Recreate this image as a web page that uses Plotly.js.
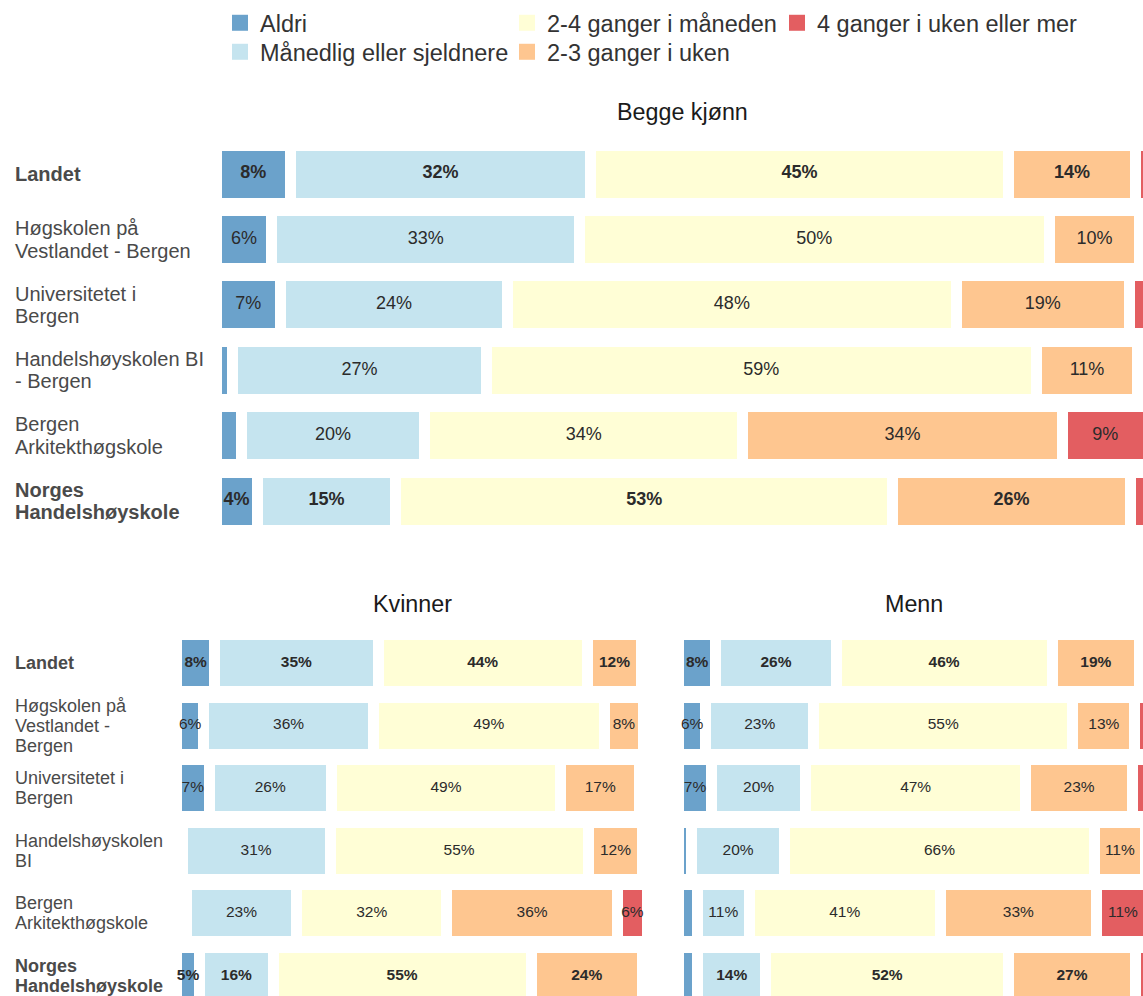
<!DOCTYPE html>
<html>
<head>
<meta charset="utf-8">
<script src="https://cdn.plot.ly/plotly-3.0.1.min.js"></script>
<style>html,body{margin:0;padding:0;background:#fff;}#chart{width:1143px;height:996px;}</style>
</head>
<body>
<div id="chart"></div>
<script>
// ---------- data ----------
const categories = ['Landet', 'Høgskolen på Vestlandet - Bergen', 'Universitetet i Bergen',
  'Handelshøyskolen BI - Bergen', 'Bergen Arkitekthøgskole', 'Norges Handelshøyskole'];
const topLabels = ['Landet', 'Høgskolen på<br>Vestlandet - Bergen', 'Universitetet i<br>Bergen',
  'Handelshøyskolen BI<br>- Bergen', 'Bergen<br>Arkitekthøgskole', 'Norges<br>Handelshøyskole'];
const bottomLabels = ['Landet', 'Høgskolen på<br>Vestlandet -<br>Bergen', 'Universitetet i<br>Bergen',
  'Handelshøyskolen<br>BI', 'Bergen<br>Arkitekthøgskole', 'Norges<br>Handelshøyskole'];
const boldRows = ['Landet', 'Norges Handelshøyskole'];
const seriesNames = ['Aldri', 'Månedlig eller sjeldnere', '2-4 ganger i måneden',
  '2-3 ganger i uken', '4 ganger i uken eller mer'];
const seriesColors = ['#6ba2cb', '#c5e4ef', '#fffed6', '#fec690', '#e35e61'];
const panelTitles = ['Begge kjønn', 'Kvinner', 'Menn'];

// Begge kjønn (percent)
const beggeAldri    = [8.0, 6.0, 6.9, 1.8, 2.7, 4.4];
const beggeMaanedlig= [32.2, 33.0, 24.4, 27.2, 19.7, 14.9];
const begge24mnd    = [44.8, 50.4, 48.1, 59.0, 34.1, 53.3];
const begge23uke    = [13.7, 9.7, 18.6, 10.9, 34.3, 25.5];
const begge4uke     = [1.3, 0.9, 2.0, 1.1, 9.2, 1.9];
// Kvinner
const kvinnerAldri    = [8.1, 5.8, 6.9, 1.2, 2.1, 4.9];
const kvinnerMaanedlig= [34.7, 36.0, 26.0, 31.4, 23.4, 15.6];
const kvinner24mnd    = [44.4, 49.0, 48.6, 54.8, 31.9, 54.8];
const kvinner23uke    = [11.6, 8.4, 16.9, 11.6, 36.2, 23.6];
const kvinner4uke     = [1.2, 0.8, 1.6, 1.0, 6.4, 1.1];
// Menn
const mennAldri    = [7.9, 5.8, 7.0, 2.8, 4.0, 4.1];
const mennMaanedlig= [25.6, 22.9, 20.0, 19.7, 11.0, 14.4];
const menn24mnd    = [45.8, 55.0, 46.7, 65.8, 40.6, 51.6];
const menn23uke    = [18.6, 13.2, 22.7, 10.8, 33.1, 26.9];
const menn4uke     = [2.1, 3.1, 3.6, 0.9, 11.3, 3.0];

// ---------- layout helpers ----------
const W = 1143, H = 996;
const px = x => x / W;
const py = y => 1 - y / H;
const FONT = 'Liberation Sans, Arial, sans-serif';

const panels = [
  {series: [beggeAldri, beggeMaanedlig, begge24mnd, begge23uke, begge4uke],
   xa: 'x', ya: 'y', barWidth: 0.887, labelMin: 4, textSize: 18},
  {series: [kvinnerAldri, kvinnerMaanedlig, kvinner24mnd, kvinner23uke, kvinner4uke],
   xa: 'x2', ya: 'y2', barWidth: 0.91, labelMin: 4.5, textSize: 15.5},
  {series: [mennAldri, mennMaanedlig, menn24mnd, menn23uke, menn4uke],
   xa: 'x3', ya: 'y3', barWidth: 0.91, labelMin: 4.5, textSize: 15.5}
];

const traces = [];
panels.forEach(p => {
  const base = categories.map(() => 0);
  p.series.forEach((vals, si) => {
    traces.push({
      type: 'bar', orientation: 'h', name: seriesNames[si],
      x: vals, y: categories, xaxis: p.xa, yaxis: p.ya,
      width: p.barWidth, showlegend: false, hoverinfo: 'skip',
      marker: {color: seriesColors[si], line: {color: '#ffffff', width: 11}}
    });
    const tx = [], ty = [], tt = [];
    vals.forEach((v, i) => {
      if (v >= p.labelMin) {
        tx.push(base[i] + v / 2);
        ty.push(categories[i]);
        const s = Math.round(v) + '%';
        tt.push(boldRows.includes(categories[i]) ? '<b>' + s + '</b>' : s);
      }
      base[i] += v;
    });
    traces.push({
      type: 'scatter', mode: 'text', x: tx, y: ty, text: tt,
      xaxis: p.xa, yaxis: p.ya, showlegend: false, hoverinfo: 'skip', cliponaxis: false,
      textposition: 'middle center',
      textfont: {family: FONT, size: p.textSize, color: '#2b2b2b'}
    });
  });
});

// legend entries (one legend per entry to reproduce the column layout)
const legendPos = [[220, 23], [220, 52], [507, 23], [507, 52], [777, 23]];
const legendLayouts = {};
seriesNames.forEach((n, si) => {
  const key = si === 0 ? 'legend' : 'legend' + (si + 1);
  traces.push({
    type: 'scatter', mode: 'markers', x: [null], y: [null], name: n,
    legend: key, showlegend: true, hoverinfo: 'skip',
    marker: {symbol: 'square', size: 16, color: seriesColors[si]}
  });
  legendLayouts[key] = {
    x: px(legendPos[si][0]), xanchor: 'left', y: py(legendPos[si][1]), yanchor: 'middle',
    orientation: 'v', bgcolor: 'rgba(0,0,0,0)', borderwidth: 0,
    font: {family: FONT, size: 23.5, color: '#333333'}
  };
});

// annotations: titles and row labels
const annotations = [];
const titlePos = [[682, 112], [412, 604], [914, 604]];
panelTitles.forEach((t, i) => annotations.push({
  text: t, xref: 'paper', yref: 'paper', x: px(titlePos[i][0]), y: py(titlePos[i][1]),
  xanchor: 'center', yanchor: 'middle', showarrow: false,
  font: {family: FONT, size: 23.3, color: '#1a1a1a'}
}));
function addRowLabels(labels, yref, xPix, size, lineH) {
  labels.forEach((lab, i) => {
    const lines = lab.split('<br>');
    const bold = boldRows.includes(categories[i]);
    lines.forEach((ln, j) => annotations.push({
      text: bold ? '<b>' + ln + '</b>' : ln,
      xref: 'paper', yref: yref, x: px(xPix), y: categories[i],
      yshift: -(j - (lines.length - 1) / 2) * lineH,
      xanchor: 'left', yanchor: 'middle', showarrow: false, align: 'left',
      font: {family: FONT, size: size, color: '#4a4a4a'}
    }));
  });
}
addRowLabels(topLabels, 'y', 13, 20, 22.5);
addRowLabels(bottomLabels, 'y2', 12.5, 18, 20);

const hiddenX = {showgrid: false, zeroline: false, showticklabels: false, ticks: '', showline: false, fixedrange: true};
const hiddenY = {showgrid: false, zeroline: false, showticklabels: false, ticks: '', showline: false,
  type: 'category', categoryorder: 'array', categoryarray: categories};

const layout = Object.assign({
  width: W, height: H,
  margin: {l: 0, r: 0, t: 0, b: 0, autoexpand: false},
  paper_bgcolor: '#ffffff', plot_bgcolor: 'rgba(0,0,0,0)',
  barmode: 'stack', bargap: 0,
  font: {family: FONT},
  xaxis: Object.assign({}, hiddenX, {domain: [px(216), 1], range: [0, 99.46], anchor: 'y'}),
  yaxis: Object.assign({}, hiddenY, {domain: [py(533.7), py(141.3)], range: [5.5, -0.5], anchor: 'x'}),
  xaxis2: Object.assign({}, hiddenX, {domain: [px(176.5), px(662)], range: [0, 103.08], anchor: 'y2'}),
  yaxis2: Object.assign({}, hiddenY, {domain: [0, py(631.7)], range: [5.32, -0.5], anchor: 'x2'}),
  xaxis3: Object.assign({}, hiddenX, {domain: [px(678.5), 1], range: [0, 98.62], anchor: 'y3'}),
  yaxis3: Object.assign({}, hiddenY, {domain: [0, py(631.7)], range: [5.32, -0.5], anchor: 'x3'}),
  annotations: annotations,
  showlegend: true
}, legendLayouts);

Plotly.newPlot('chart', traces, layout, {displayModeBar: false, staticPlot: true});
</script>
</body>
</html>
